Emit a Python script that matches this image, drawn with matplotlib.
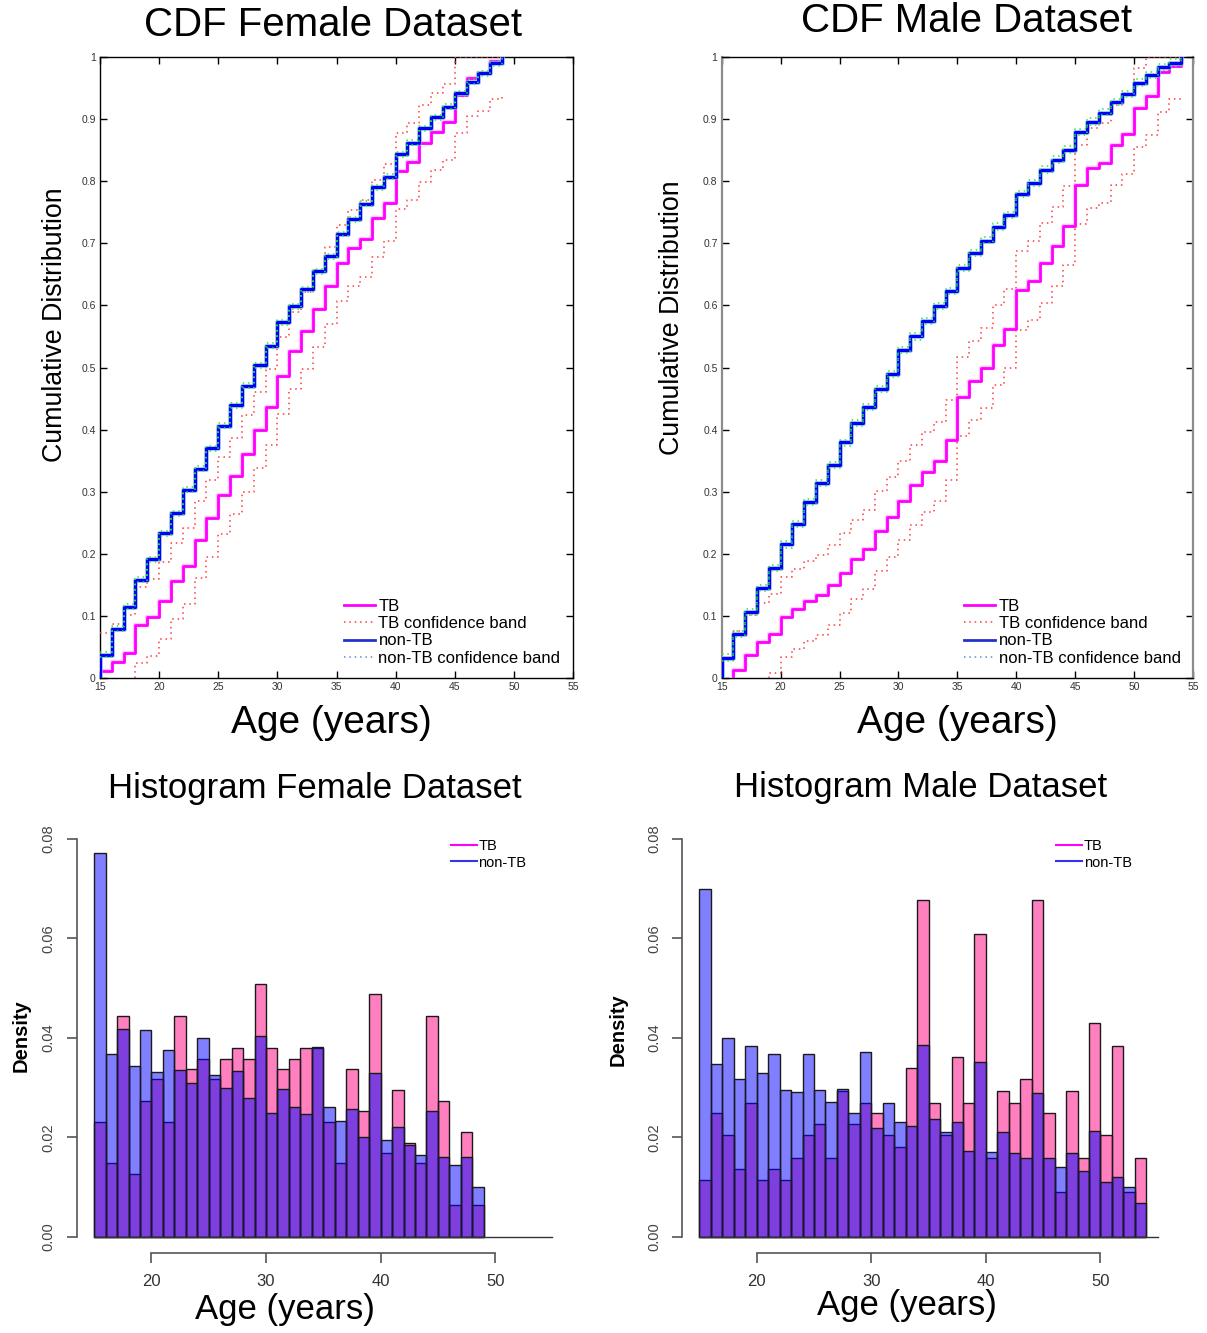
import matplotlib
matplotlib.use('Agg')
import matplotlib.pyplot as plt
from matplotlib.lines import Line2D

plt.rcParams['font.family'] = ['Liberation Sans', 'DejaVu Sans']

W, H = 1207, 1333

# ---------------- CDF data (value held from age to age+1) ----------------
female_tb_ages = list(range(15, 50))
female_tb_cdf = [0.0107, 0.025, 0.040, 0.085, 0.0975, 0.124, 0.156, 0.180, 0.223, 0.257,
                 0.294, 0.325, 0.361, 0.399, 0.436, 0.487, 0.527, 0.559, 0.595, 0.632,
                 0.668, 0.692, 0.707, 0.740, 0.765, 0.816, 0.831, 0.861, 0.880, 0.895,
                 0.939, 0.966, 0.974, 0.994, 1.0]
female_tb_upper = [0.072, 0.087, 0.102, 0.147, 0.159, 0.186, 0.218, 0.242, 0.285, 0.319,
                   0.356, 0.387, 0.423, 0.461, 0.498, 0.549, 0.589, 0.621, 0.657, 0.694,
                   0.730, 0.754, 0.769, 0.802, 0.827, 0.878, 0.893, 0.923, 0.942, 0.957,
                   1.0, 1.0, 1.0, 1.0, 1.0]
female_tb_lower_ages = list(range(18, 50))
female_tb_lower = [0.0235, 0.036, 0.0625, 0.0945, 0.1185, 0.1615, 0.1955, 0.2325, 0.2635,
                   0.2995, 0.3375, 0.3745, 0.4255, 0.4655, 0.4975, 0.5335, 0.5705, 0.6065,
                   0.6305, 0.6455, 0.6785, 0.7035, 0.7545, 0.7695, 0.7995, 0.8185, 0.8335,
                   0.8775, 0.9045, 0.9125, 0.9325, 0.9385]

female_nontb_ages = list(range(15, 50))
female_nontb_cdf = [0.0375, 0.079, 0.115, 0.158, 0.191, 0.233, 0.265, 0.303, 0.337, 0.370,
                    0.406, 0.439, 0.471, 0.504, 0.535, 0.573, 0.599, 0.626, 0.655, 0.679,
                    0.715, 0.739, 0.764, 0.790, 0.807, 0.843, 0.862, 0.885, 0.903, 0.920,
                    0.942, 0.960, 0.974, 0.990, 1.0]
female_nontb_upper = [0.0415, 0.083, 0.119, 0.162, 0.195, 0.237, 0.269, 0.307, 0.341, 0.374,
                      0.410, 0.443, 0.475, 0.508, 0.539, 0.577, 0.603, 0.630, 0.659, 0.683,
                      0.719, 0.743, 0.768, 0.794, 0.811, 0.847, 0.866, 0.889, 0.907, 0.924,
                      0.946, 0.964, 0.978, 0.994, 1.0]
female_nontb_lower = [0.0335, 0.075, 0.111, 0.154, 0.187, 0.229, 0.261, 0.299, 0.333, 0.366,
                      0.402, 0.435, 0.467, 0.500, 0.531, 0.569, 0.595, 0.622, 0.651, 0.675,
                      0.711, 0.735, 0.760, 0.786, 0.803, 0.839, 0.858, 0.881, 0.899, 0.916,
                      0.938, 0.956, 0.970, 0.986, 0.996]

male_tb_ages = list(range(16, 55))
male_tb_cdf = [0.0123, 0.0375, 0.0573, 0.0713, 0.098, 0.111, 0.124, 0.134, 0.150, 0.169,
               0.191, 0.207, 0.237, 0.259, 0.2856, 0.311, 0.332, 0.349, 0.383, 0.453,
               0.479, 0.4995, 0.536, 0.5626, 0.624, 0.640, 0.668, 0.695, 0.7286, 0.7944,
               0.821, 0.8287, 0.858, 0.876, 0.9186, 0.938, 0.976, 0.985, 1.0]
male_tb_upper = [0.076, 0.1015, 0.121, 0.135, 0.162, 0.175, 0.188, 0.198, 0.214, 0.233,
                 0.255, 0.271, 0.301, 0.323, 0.350, 0.375, 0.396, 0.413, 0.447, 0.517,
                 0.543, 0.5635, 0.600, 0.627, 0.688, 0.704, 0.732, 0.759, 0.793, 0.858,
                 0.885, 0.893, 0.922, 0.940, 0.983, 1.0, 1.0, 1.0, 1.0]
male_tb_lower_ages = list(range(19, 55))
male_tb_lower = [0.0073, 0.034, 0.047, 0.060, 0.070, 0.086, 0.105, 0.127, 0.143, 0.173,
                 0.195, 0.2216, 0.247, 0.268, 0.285, 0.319, 0.389, 0.415, 0.4355, 0.472,
                 0.4986, 0.560, 0.576, 0.604, 0.631, 0.6646, 0.7304, 0.757, 0.7647, 0.794,
                 0.812, 0.8546, 0.874, 0.912, 0.933, 0.936]

male_nontb_ages = list(range(15, 55))
male_nontb_cdf = [0.033, 0.0707, 0.1056, 0.1447, 0.1768, 0.2154, 0.2476, 0.284, 0.3135, 0.343,
                  0.3794, 0.410, 0.4368, 0.465, 0.490, 0.528, 0.550, 0.575, 0.5985, 0.623,
                  0.660, 0.684, 0.7045, 0.727, 0.746, 0.7794, 0.7966, 0.8185, 0.8346, 0.8506,
                  0.8785, 0.8961, 0.9106, 0.9283, 0.940, 0.9588, 0.971, 0.984, 0.991, 1.0]
male_nontb_upper = [0.038, 0.076, 0.111, 0.150, 0.182, 0.220, 0.253, 0.289, 0.319, 0.348,
                    0.384, 0.415, 0.442, 0.470, 0.495, 0.533, 0.555, 0.580, 0.604, 0.628,
                    0.665, 0.689, 0.710, 0.732, 0.751, 0.784, 0.802, 0.824, 0.840, 0.856,
                    0.884, 0.901, 0.916, 0.933, 0.945, 0.964, 0.976, 0.989, 0.996, 1.0]
male_nontb_lower = [0.028, 0.066, 0.101, 0.140, 0.172, 0.210, 0.243, 0.279, 0.309, 0.338,
                    0.374, 0.405, 0.432, 0.460, 0.485, 0.523, 0.545, 0.570, 0.594, 0.618,
                    0.655, 0.679, 0.700, 0.722, 0.741, 0.774, 0.792, 0.814, 0.830, 0.846,
                    0.874, 0.891, 0.906, 0.923, 0.935, 0.954, 0.966, 0.979, 0.986, 0.995]

cdf_xticks = [15, 20, 25, 30, 35, 40, 45, 50, 55]
cdf_yticks = [0, 0.1, 0.2, 0.3, 0.4, 0.5, 0.6, 0.7, 0.8, 0.9, 1]
cdf_yticklabels = ['0', '0.1', '0.2', '0.3', '0.4', '0.5', '0.6', '0.7', '0.8', '0.9', '1']
cdf_legend_labels = ['TB', 'TB confidence band', 'non-TB', 'non-TB confidence band']

# ---------------- histogram data (1-year bins, left edges) ----------------
female_bins = list(range(15, 49))
female_tb_density = [0.0231, 0.01475, 0.0445, 0.0126, 0.0274, 0.0317, 0.0231, 0.0445, 0.0338,
                     0.0358, 0.0317, 0.0358, 0.038, 0.0358, 0.0508, 0.038, 0.0338, 0.0358,
                     0.038, 0.038, 0.0231, 0.01475, 0.0338, 0.0253, 0.0488, 0.0169, 0.0296,
                     0.0189, 0.01475, 0.0445, 0.0274, 0.0063, 0.0211, 0.0063]
female_nontb_density = [0.0771, 0.0367, 0.0418, 0.0343, 0.0416, 0.0332, 0.0376, 0.0335, 0.031,
                        0.0399, 0.0325, 0.030, 0.0334, 0.028, 0.0404, 0.0249, 0.0298, 0.0262,
                        0.0246, 0.0382, 0.0262, 0.0233, 0.0257, 0.0201, 0.0329, 0.01945, 0.022,
                        0.0184, 0.01636, 0.0253, 0.016, 0.01435, 0.016, 0.010]

male_bins = list(range(15, 54))
male_tb_density = [0.0114, 0.0249, 0.02045, 0.0136, 0.027, 0.0114, 0.0136, 0.0114, 0.0158,
                   0.02045, 0.0227, 0.0158, 0.0294, 0.0227, 0.027, 0.0249, 0.02045, 0.018,
                   0.034, 0.0677, 0.027, 0.02045, 0.0361, 0.027, 0.061, 0.0158, 0.0294,
                   0.027, 0.0317, 0.0677, 0.0249, 0.00905, 0.0294, 0.0158, 0.043, 0.02045,
                   0.0384, 0.00905, 0.0158]
male_nontb_density = [0.0699, 0.0347, 0.0399, 0.0317, 0.0384, 0.0329, 0.0367, 0.0296, 0.0292,
                      0.0367, 0.0296, 0.0272, 0.0297, 0.0248, 0.0371, 0.0218, 0.027, 0.0231,
                      0.0223, 0.0386, 0.0236, 0.0211, 0.023, 0.0172, 0.0351, 0.0171, 0.0211,
                      0.0168, 0.0158, 0.029, 0.0158, 0.014, 0.0168, 0.0133, 0.0213, 0.0111,
                      0.0121, 0.010, 0.0067]

hist_xticks = [20, 30, 40, 50]
hist_yticks = [0.00, 0.02, 0.04, 0.06, 0.08]
hist_yticklabels = ['0.00', '0.02', '0.04', '0.06', '0.08']

TB_COLOR = '#ff00ff'
NONTB_COLOR = '#0000ff'
TB_BAND = '#ff3b3b'
NONTB_BAND = '#22ee22'


def stairs(ax, ages, vals, from_zero=True, **kw):
    x = list(ages)
    y = list(vals)
    if from_zero:
        x = [ages[0]] + x
        y = [0.0] + y
    ax.step(x, y, where='post', **kw)


def draw_cdf(ax, tb, tb_up, tb_lo, nt, nt_up, nt_lo, spine_color='black'):
    band_kw = dict(linestyle=(0, (1, 2.5)), linewidth=1.1)
    stairs(ax, tb[0], tb[1], color='#ffaaff', linewidth=3.2, alpha=0.6, zorder=3)
    stairs(ax, tb[0], tb[1], color=TB_COLOR, linewidth=2, zorder=4)
    stairs(ax, tb[0], tb_up, from_zero=False, color=TB_BAND, zorder=3, **band_kw)
    stairs(ax, tb_lo[0], tb_lo[1], color=TB_BAND, zorder=3, **band_kw)
    stairs(ax, nt[0], nt[1], color='#8faaff', linewidth=3.6, alpha=0.7, zorder=5)
    stairs(ax, nt[0], nt[1], color=NONTB_COLOR, linewidth=2.2, zorder=6)
    stairs(ax, nt[0], nt_up, from_zero=False, color=NONTB_BAND, zorder=7, **band_kw)
    stairs(ax, nt[0], nt_lo, from_zero=False, color=NONTB_BAND, zorder=7, **band_kw)

    ax.set_xlim(15, 55)
    ax.set_ylim(0, 1)
    ax.set_xticks(cdf_xticks)
    ax.set_yticks(cdf_yticks)
    ax.set_yticklabels(cdf_yticklabels)
    ax.tick_params(direction='in', top=True, right=True, length=5, width=1,
                   labelsize=7.5, labelcolor='#333333', pad=3)
    for s in ax.spines.values():
        s.set_linewidth(1)
        s.set_color('black')
    if spine_color != 'black':
        ax.spines['left'].set_color(spine_color)
        ax.spines['right'].set_color(spine_color)
        ax.spines['left'].set_linewidth(1.6)
        ax.spines['right'].set_linewidth(1.6)

    handles = [Line2D([], [], color=TB_COLOR, lw=2),
               Line2D([], [], color=TB_BAND, lw=1.1, linestyle=(0, (1, 2.5))),
               Line2D([], [], color='#2233cc', lw=2),
               Line2D([], [], color='#6688cc', lw=1.1, linestyle=(0, (1, 2.5)))]
    ax.legend(handles, cdf_legend_labels, loc='lower right', bbox_to_anchor=(1.0, 0.0),
              frameon=False, fontsize=12, handlelength=1.9, handletextpad=0.2,
              labelspacing=0.13, borderaxespad=0.45, borderpad=0.3)


def draw_hist(ax, bins, tb, nt):
    ax.bar(bins, tb, width=1.0, align='edge', color=(1, 0, 0.5, 0.5),
           edgecolor='#1a1a1a', linewidth=1, zorder=2)
    ax.bar(bins, nt, width=1.0, align='edge', color=(0, 0, 1, 0.5),
           edgecolor='#1a1a1a', linewidth=1, zorder=3)
    ax.plot([15, 55], [0, 0], color='#333333', linewidth=1, zorder=4)

    ax.set_xlim(13.46, 56.6)
    ax.set_ylim(-0.0032, 0.0811)
    ax.set_xticks(hist_xticks)
    ax.set_yticks(hist_yticks)
    ax.set_yticklabels(hist_yticklabels, rotation=90, va='center')
    for side in ['top', 'right']:
        ax.spines[side].set_visible(False)
    ax.spines['left'].set_bounds(0, 0.08)
    ax.spines['bottom'].set_bounds(20, 50)
    for side in ['left', 'bottom']:
        ax.spines[side].set_color('#555555')
        ax.spines[side].set_linewidth(1.2)
    ax.tick_params(axis='x', direction='out', length=7, width=1.2, color='#555555',
                   labelsize=12, labelcolor='#333333', pad=8)
    ax.tick_params(axis='y', direction='out', length=7, width=1.2, color='#555555',
                   labelsize=10.5, labelcolor='#444444', pad=8)

    handles = [Line2D([], [], color=TB_COLOR, lw=1.5),
               Line2D([], [], color='#3333ee', lw=1.5)]
    ax.legend(handles, ['TB', 'non-TB'], loc='upper left', bbox_to_anchor=(0.752, 0.995),
              frameon=False, fontsize=10.5, handlelength=1.75, handletextpad=0.12,
              labelspacing=0.2, borderaxespad=0, borderpad=0.2)


fig = plt.figure(figsize=(W / 100, H / 100), dpi=100)

# CDF panels
ax1 = fig.add_axes([100 / W, 1 - 678 / H, 473 / W, 621 / H])
draw_cdf(ax1, (female_tb_ages, female_tb_cdf), female_tb_upper,
         (female_tb_lower_ages, female_tb_lower),
         (female_nontb_ages, female_nontb_cdf), female_nontb_upper, female_nontb_lower)

ax2 = fig.add_axes([721.7 / W, 1 - 678 / H, 471.3 / W, 621 / H])
draw_cdf(ax2, (male_tb_ages, male_tb_cdf), male_tb_upper,
         (male_tb_lower_ages, male_tb_lower),
         (male_nontb_ages, male_nontb_cdf), male_nontb_upper, male_nontb_lower,
         spine_color='#8c8c8c')

fig.text(333 / W, 1 - 25 / H, 'CDF Female Dataset', ha='center', va='center', fontsize=29)
fig.text(967 / W, 1 - 21 / H, 'CDF Male Dataset', ha='center', va='center', fontsize=29)
fig.text(331 / W, 1 - 723 / H, 'Age (years)', ha='center', va='center', fontsize=28)
fig.text(957 / W, 1 - 723 / H, 'Age (years)', ha='center', va='center', fontsize=28)
fig.text(55 / W, 1 - 325 / H, 'Cumulative Distribution', ha='center', va='center',
         rotation=90, fontsize=19.3)
fig.text(672 / W, 1 - 318 / H, 'Cumulative Distribution', ha='center', va='center',
         rotation=90, fontsize=19.3)

# histogram panels
hb = 1 - 1252.7 / H
hh = (1252.7 - 833.6) / H
hw = 494.3 / W
ax3 = fig.add_axes([76.5 / W, hb, hw, hh])
draw_hist(ax3, female_bins, female_tb_density, female_nontb_density)
ax4 = fig.add_axes([681.8 / W, hb, hw, hh])
draw_hist(ax4, male_bins, male_tb_density, male_nontb_density)

fig.text(315 / W, 1 - 789 / H, 'Histogram Female Dataset', ha='center', va='center', fontsize=25)
fig.text(921 / W, 1 - 788 / H, 'Histogram Male Dataset', ha='center', va='center', fontsize=25)
fig.text(285 / W, 1 - 1310 / H, 'Age (years)', ha='center', va='center', fontsize=25)
fig.text(907 / W, 1 - 1306 / H, 'Age (years)', ha='center', va='center', fontsize=25)
fig.text(21 / W, 1 - 1036 / H, 'Density', ha='center', va='center', rotation=90,
         fontsize=14.5, fontweight='bold')
fig.text(618 / W, 1 - 1030 / H, 'Density', ha='center', va='center', rotation=90,
         fontsize=14.5, fontweight='bold')

fig.savefig('out.png', dpi=100, facecolor='white')
plt.close(fig)
